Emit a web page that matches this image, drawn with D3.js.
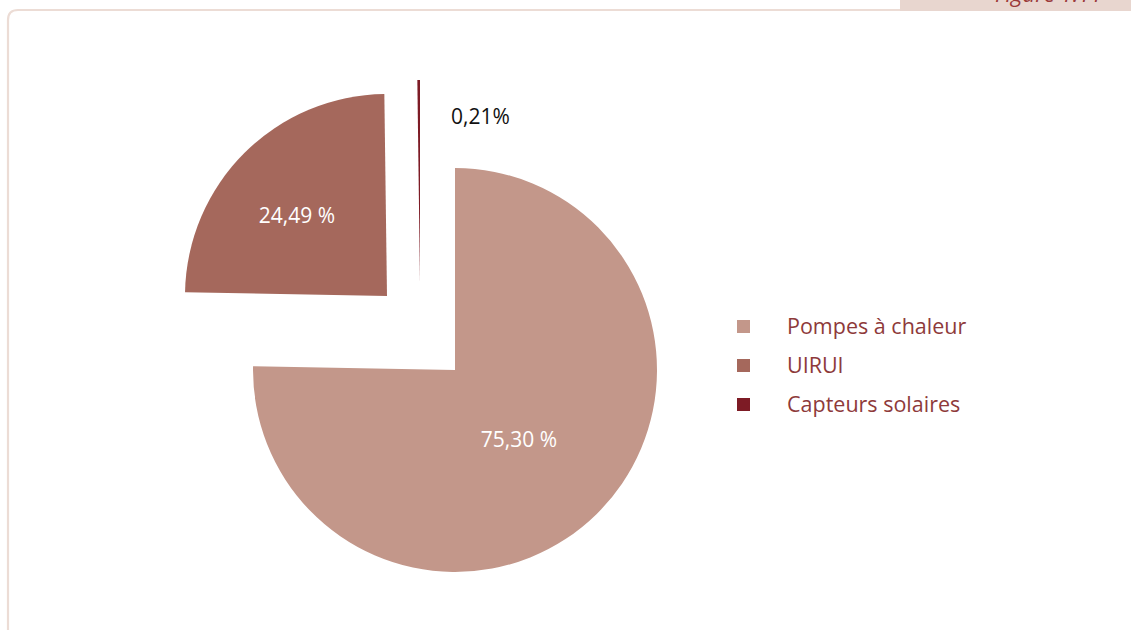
<!DOCTYPE html>
<html><head><meta charset="utf-8">
<script src="https://cdn.jsdelivr.net/npm/d3@7"></script>
<style>html,body{margin:0;padding:0;background:#fff;}svg{display:block;}</style>
</head><body>
<svg id="c" width="1131" height="630"></svg>
<script>
const categories = ["Pompes à chaleur", "UIRUI", "Capteurs solaires"];
const values = [75.30, 24.49, 0.21];
const labels = ["75,30 %", "24,49 %", "0,21%"];
const colors = ["#c3978a", "#a5685c", "#7d1b25"];
const figureTitle = "Figure 1.11";

const svg = d3.select("#c");

// frame
svg.append("path")
  .attr("d", "M8,640 L8,20 Q8,10 18,10 L1140,10")
  .attr("fill", "none").attr("stroke", "#ecdcd5").attr("stroke-width", 2.2);
svg.append("rect").attr("x", 900).attr("y", -2).attr("width", 240).attr("height", 13)
  .attr("fill", "#e8d6cf");
svg.append("text").attr("x", 995).attr("y", 1.5)
  .attr("font-family", "Open Sans, sans-serif").attr("font-style", "italic")
  .attr("font-size", 22).attr("fill", "#9b3a3a").text(figureTitle);

// pie
const cx = 455, cy = 370, r = 202;
const offsets = [[0, 0], [-68, -74], [-35, -88]];
const pie = d3.pie().sort(null).startAngle(0).endAngle(2 * Math.PI)(values);
const arc = d3.arc().innerRadius(0).outerRadius(r);

const g = svg.append("g").attr("transform", `translate(${cx},${cy})`);
pie.forEach((d, i) => {
  g.append("path")
    .attr("d", arc(d))
    .attr("fill", colors[i])
    .attr("transform", `translate(${offsets[i][0]},${offsets[i][1]})`);
});

// labels
const labelPos = [[64, 77, "middle", "#fff"], [-158, -147, "middle", "#fff"], [-4, -246, "start", "#111"]];
pie.forEach((d, i) => {
  g.append("text")
    .attr("x", labelPos[i][0]).attr("y", labelPos[i][1])
    .attr("text-anchor", labelPos[i][2])
    .attr("font-family", "Open Sans, sans-serif").attr("font-size", 21)
    .attr("fill", labelPos[i][3])
    .text(labels[i]);
});

// legend
const lg = svg.append("g").attr("transform", "translate(737,320)");
const ly = d3.scalePoint().domain(categories).range([0, 78]);
categories.forEach((c, i) => {
  lg.append("rect").attr("x", 0).attr("y", ly(c)).attr("width", 13).attr("height", 13)
    .attr("fill", colors[i]);
  lg.append("text").attr("x", 50).attr("y", ly(c) + 14)
    .attr("font-family", "Open Sans, sans-serif").attr("font-size", 21.5)
    .attr("fill", "#8e3a3a").text(c);
});
</script>
</body></html>
